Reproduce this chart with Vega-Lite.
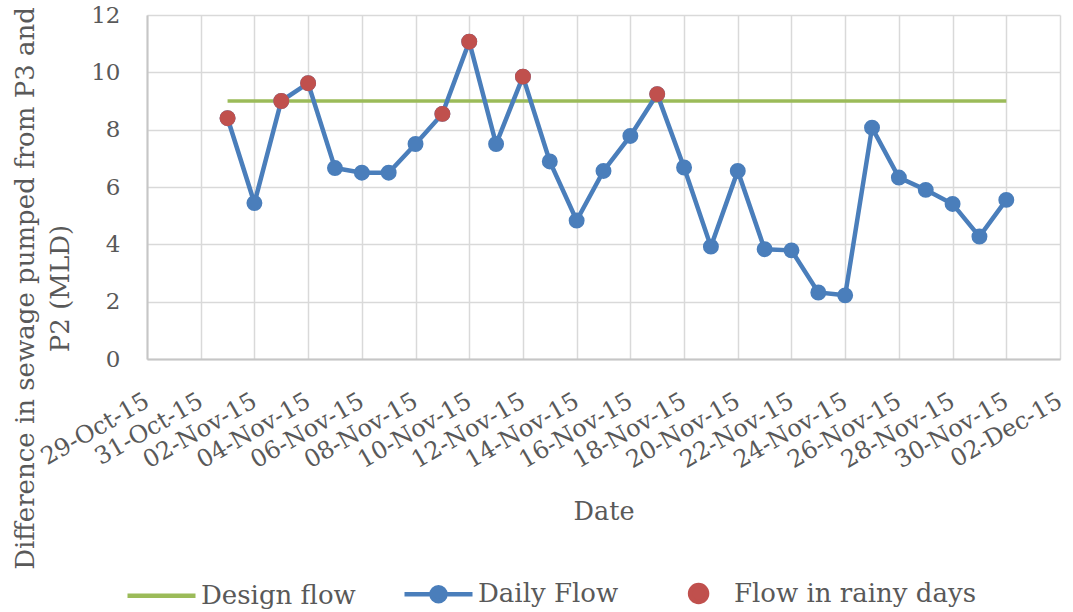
{
  "$schema": "https://vega.github.io/schema/vega-lite/v6.json",
  "autosize": {"type": "none"},
  "padding": {"left": 147, "top": 15, "right": 13, "bottom": 253},
  "width": 913,
  "height": 344,
  "background": "white",
  "datasets": {
    "daily": [
      {"date": "2015-11-01", "flow": 8.40, "rainy": true},
      {"date": "2015-11-02", "flow": 5.44, "rainy": false},
      {"date": "2015-11-03", "flow": 9.00, "rainy": true},
      {"date": "2015-11-04", "flow": 9.62, "rainy": true},
      {"date": "2015-11-05", "flow": 6.66, "rainy": false},
      {"date": "2015-11-06", "flow": 6.50, "rainy": false},
      {"date": "2015-11-07", "flow": 6.50, "rainy": false},
      {"date": "2015-11-08", "flow": 7.50, "rainy": false},
      {"date": "2015-11-09", "flow": 8.55, "rainy": true},
      {"date": "2015-11-10", "flow": 11.07, "rainy": true},
      {"date": "2015-11-11", "flow": 7.50, "rainy": false},
      {"date": "2015-11-12", "flow": 9.85, "rainy": true},
      {"date": "2015-11-13", "flow": 6.89, "rainy": false},
      {"date": "2015-11-14", "flow": 4.83, "rainy": false},
      {"date": "2015-11-15", "flow": 6.56, "rainy": false},
      {"date": "2015-11-16", "flow": 7.78, "rainy": false},
      {"date": "2015-11-17", "flow": 9.24, "rainy": true},
      {"date": "2015-11-18", "flow": 6.68, "rainy": false},
      {"date": "2015-11-19", "flow": 3.92, "rainy": false},
      {"date": "2015-11-20", "flow": 6.56, "rainy": false},
      {"date": "2015-11-21", "flow": 3.83, "rainy": false},
      {"date": "2015-11-22", "flow": 3.79, "rainy": false},
      {"date": "2015-11-23", "flow": 2.32, "rainy": false},
      {"date": "2015-11-24", "flow": 2.22, "rainy": false},
      {"date": "2015-11-25", "flow": 8.07, "rainy": false},
      {"date": "2015-11-26", "flow": 6.33, "rainy": false},
      {"date": "2015-11-27", "flow": 5.90, "rainy": false},
      {"date": "2015-11-28", "flow": 5.41, "rainy": false},
      {"date": "2015-11-29", "flow": 4.27, "rainy": false},
      {"date": "2015-11-30", "flow": 5.55, "rainy": false}
    ],
    "design": [
      {"date": "2015-11-01", "flow": 9},
      {"date": "2015-11-30", "flow": 9}
    ]
  },
  "data": {"name": "daily"},
  "encoding": {
    "x": {
      "field": "date",
      "type": "temporal",
      "title": "Date",
      "scale": {
        "type": "utc",
        "domain": [
          {"year": 2015, "month": 10, "date": 29, "utc": true},
          {"year": 2015, "month": 12, "date": 2, "utc": true}
        ]
      },
      "axis": {
        "labelExpr": "utcFormat(datum.value, '%d-%b-%y')",
        "values": [
          {"year": 2015, "month": 10, "date": 29, "utc": true},
          {"year": 2015, "month": 10, "date": 31, "utc": true},
          {"year": 2015, "month": 11, "date": 2, "utc": true},
          {"year": 2015, "month": 11, "date": 4, "utc": true},
          {"year": 2015, "month": 11, "date": 6, "utc": true},
          {"year": 2015, "month": 11, "date": 8, "utc": true},
          {"year": 2015, "month": 11, "date": 10, "utc": true},
          {"year": 2015, "month": 11, "date": 12, "utc": true},
          {"year": 2015, "month": 11, "date": 14, "utc": true},
          {"year": 2015, "month": 11, "date": 16, "utc": true},
          {"year": 2015, "month": 11, "date": 18, "utc": true},
          {"year": 2015, "month": 11, "date": 20, "utc": true},
          {"year": 2015, "month": 11, "date": 22, "utc": true},
          {"year": 2015, "month": 11, "date": 24, "utc": true},
          {"year": 2015, "month": 11, "date": 26, "utc": true},
          {"year": 2015, "month": 11, "date": 28, "utc": true},
          {"year": 2015, "month": 11, "date": 30, "utc": true},
          {"year": 2015, "month": 12, "date": 2, "utc": true}
        ]
      }
    },
    "y": {
      "field": "flow",
      "type": "quantitative",
      "title": ["Difference in sewage pumped from P3 and", "P2 (MLD)"],
      "scale": {"domain": [0, 12], "nice": false, "zero": true},
      "axis": {"values": [0, 2, 4, 6, 8, 10, 12]}
    }
  },
  "layer": [
    {
      "data": {"name": "design"},
      "mark": {"type": "line", "strokeWidth": 3.5, "strokeCap": "butt"},
      "encoding": {
        "color": {
          "datum": "Design flow",
          "type": "nominal",
          "scale": {
            "domain": ["Design flow", "Daily Flow", "Flow in rainy days"],
            "range": ["#9bbb59", "#4a7ebb", "#c0504d"]
          },
          "legend": {
            "orient": "none",
            "legendX": -22,
            "legendY": 542,
            "direction": "horizontal",
            "title": null,
            "padding": 0,
            "symbolSize": 4624,
            "labelFontSize": 26,
            "labelFont": "DejaVu Serif",
            "labelColor": "#595959",
            "labelOffset": 3,
            "labelLimit": 500,
            "columnPadding": 39,
            "encode": {
              "symbols": {
                "update": {
                  "shape": {"signal": "datum.value === 'Design flow' ? 'M-1,0H1' : datum.value === 'Daily Flow' ? 'M-1,0H1M0.206,0A0.206,0.206,0,1,1,-0.206,0A0.206,0.206,0,1,1,0.206,0Z' : 'M0.37,0A0.25,0.25,0,1,1,-0.13,0A0.25,0.25,0,1,1,0.37,0Z'"},
                  "fill": {"signal": "datum.value === 'Design flow' ? 'transparent' : datum.value === 'Daily Flow' ? '#4a7ebb' : '#c0504d'"},
                  "stroke": {"signal": "datum.value === 'Design flow' ? '#9bbb59' : datum.value === 'Daily Flow' ? '#4a7ebb' : 'transparent'"},
                  "strokeWidth": {"value": 4.5},
                  "opacity": {"value": 1},
                  "fillOpacity": {"value": 1},
                  "strokeOpacity": {"value": 1}
                }
              }
            }
          }
        }
      }
    },
    {
      "mark": {"type": "line", "strokeWidth": 4.5},
      "encoding": {"color": {"datum": "Daily Flow", "type": "nominal", "legend": null}}
    },
    {
      "mark": {"type": "point", "filled": true, "size": 254, "opacity": 1, "shape": "circle"},
      "encoding": {"color": {"datum": "Daily Flow", "type": "nominal", "legend": null}}
    },
    {
      "transform": [{"filter": "datum.rainy"}],
      "mark": {"type": "point", "filled": true, "size": 254, "opacity": 1, "shape": "circle"},
      "encoding": {"color": {"datum": "Flow in rainy days", "type": "nominal", "legend": null}}
    }
  ],
  "config": {
    "font": "DejaVu Serif",
    "view": {"stroke": null},
    "axis": {
      "grid": true,
      "gridColor": "#d9d9d9",
      "gridWidth": 1.5,
      "domainColor": "#c6c6c6",
      "domainWidth": 2,
      "ticks": false,
      "labelColor": "#595959",
      "labelFont": "DejaVu Serif",
      "labelFontSize": 23,
      "titleColor": "#595959",
      "titleFont": "DejaVu Serif",
      "titleFontWeight": "normal",
      "titleFontSize": 25.5,
      "labelOverlap": false,
      "labelFlush": false,
      "labelBound": false
    },
    "axisX": {
      "labelAngle": -30,
      "labelAlign": "right",
      "labelBaseline": "middle",
      "labelPadding": 40,
      "labelFontSize": 24,
      "titleY": 160,
      "titleBaseline": "alphabetic"
    },
    "axisY": {
      "labelPadding": 27,
      "titleX": -114,
      "titleY": 273,
      "titleAngle": 270,
      "titleAlign": "center",
      "titleBaseline": "alphabetic",
      "titleLineHeight": 35,
      "titleFontSize": 26
    }
  }
}
